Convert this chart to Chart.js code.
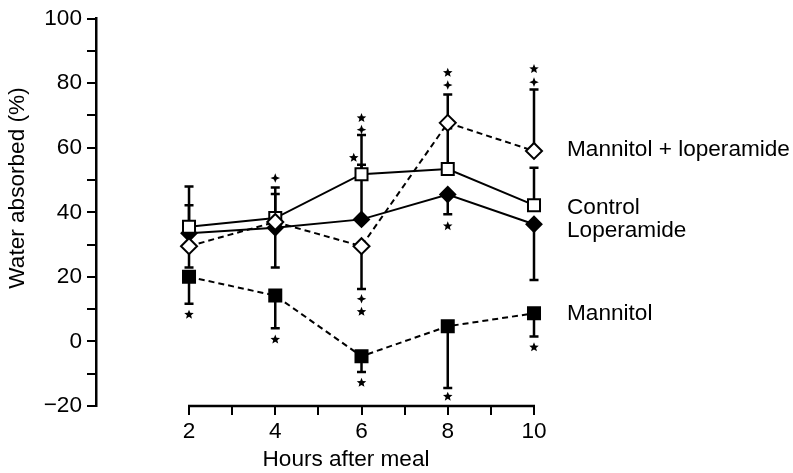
<!DOCTYPE html>
<html>
<head>
<meta charset="utf-8">
<script src="https://cdn.jsdelivr.net/npm/chart.js@4.4.1/dist/chart.umd.min.js"></script>
<style>
  html, body { margin: 0; padding: 0; background: #fff; }
  #wrap { width: 793px; height: 473px; position: relative; }
</style>
</head>
<body>
<div id="wrap"><canvas id="chartWater"></canvas></div>
<script>
// ===== data =====
const hours = [2, 4, 6, 8, 10];
const xTickValues = [2, 3, 4, 5, 6, 7, 8, 9, 10];
const yMin = -20, yMax = 100, yStep = 10;

const mannLop    = [29.5, 37.0, 29.5, 67.7, 59.0];
const control    = [35.5, 38.2, 51.8, 53.4, 42.2];
const loperamide = [33.5, 35.2, 37.8, 45.5, 36.3];
const mannitol   = [20.0, 14.2, -4.6,  4.7,  8.7];

// error bar ends (bar runs from the mean to this value)
const mannLopErr    = [48.0, 47.7, 16.2, 76.5, 78.0];
const controlErr    = [42.2, 45.7, 63.9, 66.0, 53.8];
const loperamideErr = [22.9, 22.9, 54.7, 39.4, 19.0];
const mannitolErr   = [11.7,  4.1, -9.5, -14.4, 1.5];

// significance marks: 'star' = ★, 'cross' = small four-point star
const sigHours   = [2,    4,    4,   5.82, 6,    6,    6,    6,   6,     8,    8,    8,    8,     10,   10,   10];
const sigValues  = [8.3,  50.6, 0.6, 56.9, 65.6, 69.2, 13.2, 9.2, -12.8, 79.4, 83.2, 35.7, -17.1, 80.3, 84.4, -1.8];
const sigSymbols = ['star','cross','star','star','cross','star','cross','star','star','cross','star','star','star','cross','star','star'];

const FONT = "'Liberation Sans', Arial, Helvetica, sans-serif";

// ===== plugins =====
const errorBars = {
  id: 'errorBars',
  beforeDatasetsDraw(chart) {
    const { ctx, scales: { x, y } } = chart;
    ctx.save();
    ctx.strokeStyle = '#000';
    ctx.lineWidth = 2.5;
    chart.data.datasets.forEach(ds => {
      ds.errEnd.forEach((end, i) => {
        const px = x.getPixelForValue(hours[i]);
        const y0 = y.getPixelForValue(ds.data[i].y);
        const y1 = y.getPixelForValue(end);
        ctx.beginPath();
        ctx.moveTo(px, y0);
        ctx.lineTo(px, y1);
        ctx.moveTo(px - 4.5, y1);
        ctx.lineTo(px + 4.5, y1);
        ctx.stroke();
      });
    });
    ctx.restore();
  }
};

function drawStar(ctx, cx, cy, n, rOut, rIn) {
  ctx.beginPath();
  for (let k = 0; k < n * 2; k++) {
    const r = k % 2 === 0 ? rOut : rIn;
    const a = -Math.PI / 2 + k * Math.PI / n;
    const px = cx + r * Math.cos(a), py = cy + r * Math.sin(a);
    if (k === 0) ctx.moveTo(px, py); else ctx.lineTo(px, py);
  }
  ctx.closePath();
  ctx.fill();
}

const decorations = {
  id: 'decorations',
  afterDraw(chart) {
    const { ctx, chartArea, scales: { x, y } } = chart;
    ctx.save();
    ctx.fillStyle = '#000';
    ctx.strokeStyle = '#000';

    // x axis line only over the plotted hours
    ctx.lineWidth = 2.5;
    ctx.beginPath();
    ctx.moveTo(x.getPixelForValue(xTickValues[0]) - 1, chartArea.bottom);
    ctx.lineTo(x.getPixelForValue(xTickValues[xTickValues.length - 1]) + 1, chartArea.bottom);
    ctx.stroke();

    // significance marks
    sigHours.forEach((h, i) => {
      const px = x.getPixelForValue(h);
      const py = y.getPixelForValue(sigValues[i]);
      if (sigSymbols[i] === 'star') drawStar(ctx, px, py, 5, 5.0, 2.2);
      else drawStar(ctx, px, py, 4, 4.8, 1.9);
    });

    // series labels beside the last point
    ctx.font = '22.6px ' + FONT;
    ctx.textAlign = 'left';
    ctx.textBaseline = 'middle';
    const lx = x.getPixelForValue(hours[hours.length - 1]) + 33;
    chart.data.datasets.forEach(ds => {
      const last = ds.data[ds.data.length - 1].y;
      ctx.fillText(ds.label, lx, y.getPixelForValue(last) + ds.labelNudge);
    });

    // axis titles
    ctx.textAlign = 'center';
    ctx.fillText('Hours after meal', 346, 460);
    ctx.translate(18, 188);
    ctx.rotate(-Math.PI / 2);
    ctx.fillText('Water absorbed (%)', 0, 0);
    ctx.restore();
  }
};

// ===== chart =====
function toPoints(vals) {
  return hours.map((h, i) => ({ x: h, y: vals[i] }));
}

function initWaterChart() {
  const ctx = document.getElementById('chartWater');
  if (!ctx) return;

  const common = {
    borderColor: '#000',
    borderWidth: 2,
    pointBorderColor: '#000',
    pointBorderWidth: 2,
    tension: 0,
    fill: false,
    clip: false,
  };

  new Chart(ctx, {
    type: 'line',
    data: {
      datasets: [
        { ...common, label: 'Mannitol + loperamide', data: toPoints(mannLop), errEnd: mannLopErr,
          borderDash: [6, 4], pointStyle: 'rectRot', pointRadius: 8, pointBackgroundColor: '#fff', labelNudge: -1 },
        { ...common, label: 'Control', data: toPoints(control), errEnd: controlErr,
          pointStyle: 'rect', pointRadius: 8.5, pointBackgroundColor: '#fff', labelNudge: 3 },
        { ...common, label: 'Loperamide', data: toPoints(loperamide), errEnd: loperamideErr,
          pointStyle: 'rectRot', pointRadius: 7.5, pointBackgroundColor: '#000', labelNudge: 7 },
        { ...common, label: 'Mannitol', data: toPoints(mannitol), errEnd: mannitolErr,
          borderDash: [6, 4], pointStyle: 'rect', pointRadius: 8.5, pointBackgroundColor: '#000', labelNudge: 0 },
      ]
    },
    options: {
      responsive: true,
      maintainAspectRatio: false,
      animation: false,
      layout: { padding: { top: 16, right: 259, left: 0, bottom: 0 } },
      plugins: {
        legend: { display: false },
        tooltip: { enabled: false },
      },
      scales: {
        x: {
          type: 'linear',
          min: -0.157,
          max: 10,
          afterBuildTicks: scale => { scale.ticks = xTickValues.map(v => ({ value: v })); },
          afterFit: scale => { scale.height = 67; },
          border: { display: false },
          grid: { drawOnChartArea: false, drawTicks: true, tickLength: 9, color: '#000', lineWidth: 2 },
          ticks: {
            color: '#000',
            font: { family: FONT, size: 22.6 },
            padding: 3,
            maxRotation: 0,
            autoSkip: false,
            callback: v => (v % 2 === 0 ? String(v) : ''),
          },
        },
        y: {
          min: yMin,
          max: yMax,
          afterFit: scale => { scale.width = 96; },
          border: { display: true, color: '#000', width: 2.5 },
          grid: { drawOnChartArea: false, drawTicks: true, tickLength: 9, color: '#000', lineWidth: 2 },
          ticks: {
            stepSize: yStep,
            color: '#000',
            font: { family: FONT, size: 22.6 },
            padding: 5,
            autoSkip: false,
            callback: v => (v % 20 === 0 ? (v < 0 ? '\u2212' + Math.abs(v) : String(v)) : ''),
          },
        },
      },
    },
    plugins: [errorBars, decorations],
  });
}

document.addEventListener('DOMContentLoaded', initWaterChart);
</script>
</body>
</html>
